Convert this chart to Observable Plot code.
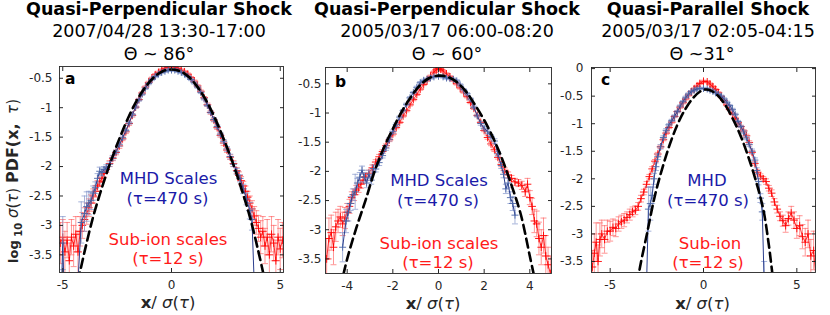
<!DOCTYPE html>
<html><head><meta charset="utf-8">
<script src="https://cdn.jsdelivr.net/npm/d3@7"></script>
<script src="https://cdn.jsdelivr.net/npm/@observablehq/plot@0.6"></script>
<style>
html,body{margin:0;padding:0;background:#fff;}
#chart{position:relative;width:830px;height:315px;overflow:hidden;font-family:"DejaVu Sans",sans-serif;}
#chart > svg{position:absolute;top:0;}
</style></head><body><div id="chart"></div>
<script>
// ---------- Panel a : 2007/04/28 ----------
const aRedX = [-5.1,-5.0,-4.9,-4.8,-4.7,-4.6,-4.5,-4.4,-4.3,-4.2,-4.1,-4.0,-3.9,-3.8,-3.7,-3.6,-3.5,-3.4,-3.3,-3.2,-3.1,-3.0,-2.85,-2.7,-2.55,-2.4,-2.25,-2.1,-1.95,-1.8,-1.65,-1.5,-1.35,-1.2,-1.05,-0.9,-0.75,-0.6,-0.45,-0.3,-0.15,0,0.15,0.3,0.45,0.6,0.75,0.9,1.05,1.2,1.35,1.5,1.65,1.8,1.95,2.1,2.25,2.4,2.55,2.7,2.85,3.0,3.1,3.2,3.3,3.4,3.5,3.6,3.7,3.8,3.9,4.0,4.1,4.2,4.3,4.4,4.5,4.6,4.7,4.8,4.9,5.0,5.1];
const aRedY = [-3.3,-3.2,-3.45,-3.25,-3.6,-3.2,-3.35,-3.15,-3.45,-3.1,-3.0,-2.9,-2.8,-2.7,-2.62,-2.5,-2.42,-2.33,-2.26,-2.2,-2.12,-2.05,-1.95,-1.86,-1.76,-1.65,-1.53,-1.41,-1.27,-1.13,-0.99,-0.86,-0.75,-0.65,-0.57,-0.5,-0.44,-0.4,-0.36,-0.33,-0.31,-0.3,-0.31,-0.33,-0.36,-0.39,-0.43,-0.49,-0.55,-0.63,-0.72,-0.83,-0.95,-1.08,-1.21,-1.34,-1.47,-1.6,-1.72,-1.84,-1.95,-2.07,-2.15,-2.24,-2.33,-2.42,-2.52,-2.62,-2.72,-2.84,-2.95,-3.05,-3.2,-3.1,-3.35,-3.2,-3.5,-3.15,-3.3,-3.6,-3.2,-3.4,-3.25];
const aRedE = [.35,.3,.35,.3,.3,.3,.35,.3,.35,.25,.22,.2,.18,.15,.14,.12,.1,.09,.08,.07,.06,.05,.05,.04,.04,.04,.03,.03,.03,.03,.02,.02,.02,.02,.02,.02,.02,.02,.02,.02,.02,.02,.02,.02,.02,.02,.02,.02,.02,.02,.02,.02,.03,.03,.03,.03,.03,.04,.04,.04,.05,.05,.06,.07,.08,.09,.1,.12,.14,.16,.2,.22,.28,.25,.3,.3,.35,.3,.3,.35,.3,.35,.3];
const aBlueX = [-5.05,-5.0,-4.95,-4.9,-4.3,-4.15,-4.0,-3.9,-3.8,-3.7,-3.6,-3.5,-3.4,-3.3,-3.2,-3.1,-3.0,-2.85,-2.7,-2.55,-2.4,-2.25,-2.1,-1.95,-1.8,-1.65,-1.5,-1.35,-1.2,-1.05,-0.9,-0.75,-0.6,-0.45,-0.3,-0.15,0,0.15,0.3,0.45,0.6,0.75,0.9,1.05,1.2,1.35,1.5,1.65,1.8,1.95,2.1,2.25,2.4,2.55,2.7,2.85,3.0,3.15,3.3,3.45,3.6,3.7,3.8];
const aBlueY = [-3.95,-3.3,-3.95,null,-3.95,-2.95,-2.8,-2.68,-2.62,-2.58,-2.45,-2.36,-2.2,-2.08,-2.1,-2.05,-2.02,-1.96,-1.85,-1.75,-1.63,-1.51,-1.39,-1.26,-1.12,-0.99,-0.87,-0.77,-0.67,-0.59,-0.52,-0.47,-0.43,-0.4,-0.38,-0.36,-0.36,-0.36,-0.38,-0.4,-0.43,-0.47,-0.52,-0.58,-0.65,-0.74,-0.85,-0.96,-1.08,-1.2,-1.32,-1.45,-1.57,-1.7,-1.83,-1.96,-2.08,-2.2,-2.38,-2.55,-2.75,-2.9,-3.95];
const aBlueE = [0,.45,0,0,0,.35,.3,.25,.2,.15,.12,.1,.08,.07,.06,.05,.05,.04,.04,.03,.03,.03,.02,.02,.02,.02,.02,.02,.02,.02,.02,.02,.02,.02,.02,.02,.02,.02,.02,.02,.02,.02,.02,.02,.02,.02,.02,.02,.02,.03,.03,.03,.03,.04,.04,.04,.05,.06,.08,.1,.14,.18,0];
const aFitX = [-4.3,-4.0,-3.6,-3.2,-2.8,-2.4,-2.0,-1.6,-1.2,-0.8,-0.4,0,0.4,0.8,1.2,1.6,2.0,2.4,2.8,3.2,3.6,4.0,4.3];
const aFitY = [-3.95,-3.45,-2.85,-2.36,-1.92,-1.53,-1.18,-0.88,-0.65,-0.48,-0.38,-0.35,-0.38,-0.48,-0.65,-0.88,-1.18,-1.53,-1.92,-2.36,-2.85,-3.45,-3.95];

// ---------- Panel b : 2005/03/17 06:00-08:20 ----------
const bRedX = [-4.9,-4.8,-4.7,-4.6,-4.5,-4.4,-4.3,-4.2,-4.1,-4.0,-3.9,-3.8,-3.7,-3.6,-3.5,-3.4,-3.3,-3.2,-3.05,-2.9,-2.75,-2.6,-2.45,-2.3,-2.15,-2.0,-1.85,-1.7,-1.55,-1.4,-1.25,-1.1,-0.95,-0.8,-0.65,-0.5,-0.35,-0.2,-0.1,0,0.1,0.2,0.35,0.5,0.65,0.8,0.95,1.1,1.25,1.4,1.55,1.7,1.85,2.0,2.15,2.3,2.45,2.6,2.75,2.9,3.05,3.2,3.35,3.5,3.65,3.8,3.9,4.0,4.1,4.2,4.3,4.4,4.5,4.6,4.7,4.8,4.9];
const bRedY = [-3.5,-3.15,-3.05,-3.3,-2.95,-2.85,-2.78,-2.9,-2.8,-2.7,-2.6,-2.45,-2.4,-2.32,-2.28,-2.22,-2.15,-2.1,-2.03,-1.94,-1.84,-1.75,-1.66,-1.56,-1.46,-1.36,-1.25,-1.16,-1.05,-0.96,-0.86,-0.77,-0.68,-0.59,-0.51,-0.44,-0.37,-0.3,-0.26,-0.24,-0.25,-0.28,-0.33,-0.38,-0.44,-0.5,-0.57,-0.64,-0.72,-0.82,-0.92,-1.04,-1.16,-1.3,-1.42,-1.53,-1.63,-1.76,-1.88,-1.98,-2.06,-2.12,-2.18,-2.2,-2.24,-2.35,-2.22,-2.45,-2.6,-2.85,-2.9,-3.15,-3.3,-3.1,-3.45,-3.6,-3.75];
const bRedE = [.35,.35,.3,.3,.25,.2,.18,.2,.18,.15,.12,.1,.1,.08,.08,.07,.06,.06,.05,.05,.04,.04,.03,.03,.03,.03,.02,.02,.02,.02,.02,.02,.02,.02,.02,.02,.02,.02,.02,.02,.02,.02,.02,.02,.02,.02,.02,.02,.02,.02,.02,.02,.02,.02,.03,.03,.03,.03,.04,.04,.05,.05,.06,.06,.07,.08,.1,.12,.14,.2,.22,.28,.3,.3,.35,.3,.3];
const bBlueX = [-4.2,-4.05,-3.95,-3.85,-3.75,-3.65,-3.55,-3.45,-3.35,-3.25,-3.15,-3.05,-2.95,-2.85,-2.75,-2.6,-2.45,-2.3,-2.15,-2.0,-1.85,-1.7,-1.55,-1.4,-1.25,-1.1,-0.95,-0.8,-0.65,-0.5,-0.35,-0.2,0,0.2,0.35,0.5,0.65,0.8,0.95,1.1,1.25,1.4,1.55,1.7,1.85,2.0,2.15,2.3,2.45,2.6,2.75,2.85,2.95,3.05,3.15,3.25,3.35];
const bBlueY = [-3.3,-2.85,-2.7,-2.55,-2.4,-2.35,-2.2,-2.1,-1.98,-2.1,-2.2,-2.05,-2.15,-1.95,-1.96,-1.85,-1.73,-1.6,-1.45,-1.32,-1.2,-1.07,-0.96,-0.85,-0.74,-0.65,-0.56,-0.48,-0.44,-0.42,-0.4,-0.38,-0.37,-0.38,-0.4,-0.41,-0.42,-0.45,-0.52,-0.6,-0.67,-0.76,-0.9,-1.05,-1.18,-1.26,-1.32,-1.4,-1.48,-1.7,-1.9,-2.05,-2.3,-2.2,-2.45,-2.55,-2.75];
const bBlueE = [.25,.2,.15,.12,.1,.3,.08,.08,.07,.08,.08,.07,.07,.06,.05,.05,.04,.04,.03,.03,.03,.02,.02,.02,.02,.02,.02,.02,.02,.02,.02,.02,.02,.02,.02,.02,.02,.02,.02,.02,.02,.02,.02,.02,.03,.03,.03,.03,.04,.04,.05,.06,.08,.08,.1,.12,.15];
const bFitX = [-4.3,-4.0,-3.6,-3.2,-2.8,-2.4,-2.0,-1.6,-1.2,-0.8,-0.4,0,0.4,0.8,1.2,1.6,2.0,2.4,2.8,3.2,3.6,4.0,4.3];
const bFitY = [-4.0,-3.5,-2.97,-2.5,-2.0,-1.6,-1.27,-0.97,-0.72,-0.52,-0.4,-0.36,-0.38,-0.47,-0.63,-0.86,-1.12,-1.43,-1.8,-2.24,-2.73,-3.45,-4.0];

// ---------- Panel c : 2005/03/17 02:05-04:15 ----------
const cRedX = [-5.95,-5.85,-5.75,-5.65,-5.55,-5.45,-5.3,-5.15,-5.0,-4.85,-4.7,-4.55,-4.4,-4.25,-4.1,-3.95,-3.8,-3.65,-3.5,-3.35,-3.2,-3.05,-2.9,-2.75,-2.6,-2.45,-2.3,-2.15,-2.0,-1.85,-1.7,-1.55,-1.4,-1.25,-1.1,-0.95,-0.8,-0.65,-0.5,-0.35,-0.2,0,0.2,0.35,0.5,0.65,0.8,0.95,1.1,1.25,1.4,1.55,1.7,1.85,2.0,2.15,2.3,2.45,2.6,2.75,2.9,3.05,3.2,3.35,3.5,3.65,3.8,3.95,4.1,4.25,4.4,4.55,4.7,4.85,5.0,5.15,5.3,5.45,5.6,5.75,5.9,6.0];
const cRedY = [-3.6,-3.35,-3.15,-3.5,-3.1,-3.0,-3.1,-2.95,-2.95,-2.88,-2.9,-2.82,-2.78,-2.75,-2.7,-2.65,-2.6,-2.57,-2.5,-2.36,-2.24,-2.1,-1.96,-1.82,-1.68,-1.55,-1.42,-1.29,-1.17,-1.07,-0.97,-0.87,-0.78,-0.7,-0.62,-0.55,-0.48,-0.42,-0.37,-0.32,-0.27,-0.23,-0.24,-0.28,-0.33,-0.38,-0.44,-0.51,-0.58,-0.66,-0.74,-0.82,-0.9,-0.98,-1.05,-1.13,-1.22,-1.34,-1.52,-1.72,-1.88,-1.95,-2.0,-2.05,-2.17,-2.26,-2.42,-2.55,-2.68,-2.76,-2.85,-2.72,-2.62,-2.75,-2.9,-2.85,-3.05,-3.15,-3.0,-3.4,-3.3,-3.7];
const cRedE = [.3,.35,.35,.3,.3,.25,.25,.2,.18,.15,.15,.13,.12,.12,.1,.1,.09,.08,.07,.06,.05,.05,.04,.04,.03,.03,.03,.02,.02,.02,.02,.02,.02,.02,.02,.02,.02,.02,.02,.02,.02,.02,.02,.02,.02,.02,.02,.02,.02,.02,.02,.02,.02,.02,.02,.02,.03,.03,.03,.03,.04,.04,.04,.05,.05,.06,.06,.07,.08,.1,.12,.12,.12,.15,.18,.18,.22,.25,.25,.3,.35,.3];
const cBlueX = [-3.05,-2.95,-2.85,-2.75,-2.65,-2.55,-2.45,-2.3,-2.15,-2.0,-1.85,-1.7,-1.55,-1.4,-1.25,-1.1,-0.95,-0.8,-0.65,-0.5,-0.35,-0.2,0,0.2,0.35,0.5,0.65,0.8,0.95,1.1,1.25,1.4,1.55,1.7,1.85,2.0,2.15,2.3,2.45,2.6,2.75,2.85,2.95,3.05,3.15,3.25];
const cBlueY = [-3.9,-2.55,-2.45,-2.3,-2.0,-1.78,-1.6,-1.42,-1.25,-1.12,-1.02,-0.94,-0.86,-0.78,-0.68,-0.6,-0.52,-0.46,-0.42,-0.39,-0.37,-0.36,-0.36,-0.37,-0.39,-0.41,-0.44,-0.47,-0.5,-0.55,-0.61,-0.67,-0.74,-0.83,-0.96,-1.05,-1.15,-1.26,-1.38,-1.5,-1.66,-1.85,-2.05,-2.35,-2.6,-3.9];
const cBlueE = [0,.4,.3,.15,.1,.07,.05,.04,.03,.03,.02,.02,.02,.02,.02,.02,.02,.02,.02,.02,.02,.02,.02,.02,.02,.02,.02,.02,.02,.02,.02,.02,.02,.02,.02,.02,.03,.03,.03,.04,.04,.05,.06,.08,.15,.4,0];
const cFitX = [-3.55,-3.4,-3.0,-2.6,-2.2,-1.8,-1.4,-1.0,-0.6,-0.2,0.1,0.4,0.8,1.2,1.6,2.0,2.4,2.8,3.2,3.5,3.7,3.8];
const cFitY = [-3.9,-3.6,-2.95,-2.3,-1.8,-1.37,-1.02,-0.75,-0.55,-0.42,-0.38,-0.4,-0.5,-0.68,-0.93,-1.23,-1.6,-2.03,-2.55,-3.2,-3.75,-4.0];

// tick values
const aXTicks = [-5,0,5], bXTicks = [-4,-2,0,2,4], cXTicks = [-5,0,5];
const abYTicks = [-3.5,-3,-2.5,-2,-1.5,-1,-0.5];
const cYTicks = [-3.5,-3,-2.5,-2,-1.5,-1,-0.5,0];

// ---------- styles ----------
const C = {red:"#ff0000", redBar:"#ff5a5a", blueLine:"#2c3f8e", blueMark:"#4a64a6", blueBar:"#8497cb", axis:"#262626"};
const capSymbol = {draw(ctx){ ctx.moveTo(-3,0); ctx.lineTo(3,0); }};

function rows(xs, ys, es){ return xs.map((x,i)=>({x, y: ys[i], e: es ? (es[i] ?? 0) : 0})); }

const panels = [
  {left:0, width:290, ml:59, mr:7, mt:66, mb:43, xd:[-5.15,5.15], yd:[-3.8,-0.3], xt:aXTicks, yt:abYTicks, pad:7,
   red:rows(aRedX,aRedY,aRedE), blue:rows(aBlueX,aBlueY,aBlueE), fit:rows(aFitX,aFitY)},
  {left:290, width:270, ml:35, mr:9, mt:67, mb:42, xd:[-4.95,4.95], yd:[-3.75,-0.22], xt:bXTicks, yt:abYTicks, pad:4,
   red:rows(bRedX,bRedY,bRedE), blue:rows(bBlueX,bBlueY,bBlueE), fit:rows(bFitX,bFitY)},
  {left:560, width:270, ml:31, mr:15, mt:67, mb:43, xd:[-6,6], yd:[-3.7,0.02], xt:cXTicks, yt:cYTicks, pad:8,
   red:rows(cRedX,cRedY,cRedE), blue:rows(cBlueX,cBlueY,cBlueE), fit:rows(cFitX,cFitY)}
];

function errMarks(data, color, w){
  const d = data.filter(r => r.y != null && r.e > 0);
  return [
    Plot.ruleX(d, {x:"x", y1:r=>r.y-r.e, y2:r=>r.y+r.e, stroke:color, strokeWidth:w, strokeOpacity:0.8, clip:true}),
    Plot.dot(d, {x:"x", y:r=>r.y+r.e, symbol:capSymbol, fill:"none", stroke:color, strokeWidth:w, strokeOpacity:0.8, clip:true}),
    Plot.dot(d, {x:"x", y:r=>r.y-r.e, symbol:capSymbol, fill:"none", stroke:color, strokeWidth:w, strokeOpacity:0.8, clip:true})
  ];
}

const chart = document.getElementById("chart");
panels.forEach(p => {
  const svg = Plot.plot({
    width:p.width, height:315,
    marginLeft:p.ml, marginRight:p.mr, marginTop:p.mt, marginBottom:p.mb,
    x:{domain:p.xd}, y:{domain:p.yd},
    style:{fontFamily:"DejaVu Sans", fontSize:"12px", color:C.axis, background:"transparent", overflow:"visible"},
    marks:[
      ...errMarks(p.red, C.redBar, 0.8),
      Plot.line(p.red, {x:"x", y:"y", stroke:C.red, strokeWidth:0.8, clip:true}),
      Plot.dot(p.red, {x:"x", y:"y", symbol:"plus", r:2.6, stroke:C.red, strokeWidth:0.9, clip:true}),
      ...errMarks(p.blue, C.blueBar, 0.9),
      Plot.line(p.blue, {x:"x", y:"y", stroke:C.blueLine, strokeWidth:1, clip:true}),
      Plot.dot(p.blue, {x:"x", y:"y", symbol:"plus", r:2.4, stroke:C.blueMark, strokeWidth:0.9, clip:true}),
      Plot.line(p.fit, {x:"x", y:"y", stroke:"#000", strokeWidth:2.6, strokeDasharray:"9,5", curve:"catmull-rom", clip:true}),
      Plot.axisY({ticks:p.yt, tickSize:0, tickPadding:p.pad, tickFormat:d=>String(d), label:null}),
      Plot.axisY({ticks:p.yt, anchor:"left", tickSize:4, dx:4, tickFormat:()=>"", label:null}),
      Plot.axisY({ticks:p.yt, anchor:"right", tickSize:4, dx:-4, tickFormat:()=>"", label:null}),
      Plot.axisX({ticks:p.xt, tickSize:0, tickPadding:8, tickFormat:d=>String(d), label:null}),
      Plot.axisX({ticks:p.xt, anchor:"bottom", tickSize:4, dy:-4, tickFormat:()=>"", label:null}),
      Plot.axisX({ticks:p.xt, anchor:"top", tickSize:4, dy:4, tickFormat:()=>"", label:null}),
      Plot.frame({stroke:C.axis, strokeWidth:0.9})
    ]
  });
  svg.style.left = p.left + "px";
  chart.appendChild(svg);
});

// ---------- text overlay ----------
const ov = d3.select(chart).append("svg").attr("width",830).attr("height",315)
  .style("left","0px").style("font-family","DejaVu Sans").style("pointer-events","none");

const titles = [
  {x:159, t:"Quasi-Perpendicular Shock", s:"2007/04/28 13:30-17:00", th:"Θ ~ 86°", thx:159},
  {x:447, t:"Quasi-Perpendicular Shock", s:"2005/03/17 06:00-08:20", th:"Θ ~ 60°", thx:447},
  {x:708, t:"Quasi-Parallel Shock", s:"2005/03/17 02:05-04:15", th:"Θ ~31°", thx:702}
];
titles.forEach(d => {
  ov.append("text").attr("x",d.x).attr("y",14.5).attr("text-anchor","middle").attr("font-size",17.5).attr("font-weight","bold").text(d.t);
  ov.append("text").attr("x",d.x).attr("y",36.5).attr("text-anchor","middle").attr("font-size",17.5).text(d.s);
  ov.append("text").attr("x",d.thx).attr("y",59.5).attr("text-anchor","middle").attr("font-size",17.5).text(d.th);
});

[["a",65,84],["b",335,87],["c",601,85]].forEach(([t,x,y]) =>
  ov.append("text").attr("x",x).attr("y",y).attr("font-size",15.5).attr("font-weight","bold").text(t));

const notes = [
  ["MHD Scales",168.5,184,"#1a1aa8"],["(τ=470 s)",167.5,204,"#1a1aa8"],["Sub-ion scales",168,244.5,"#ff1a1a"],["(τ=12 s)",168,264,"#ff1a1a"],
  ["MHD Scales",439,186,"#1a1aa8"],["(τ=470 s)",438,206,"#1a1aa8"],["Sub-ion scales",439,248.5,"#ff1a1a"],["(τ=12 s)",438,268,"#ff1a1a"],
  ["MHD",707,186,"#1a1aa8"],["(τ=470 s)",708,206,"#1a1aa8"],["Sub-ion",710,248.5,"#ff1a1a"],["(τ=12 s)",708,268,"#ff1a1a"]
];
notes.forEach(([t,x,y,c]) => ov.append("text").attr("x",x).attr("y",y).attr("text-anchor","middle").attr("font-size",16.5).attr("fill",c).text(t));

[[168,308],[433,309],[702.5,308.5]].forEach(([x,y]) => {
  const t = ov.append("text").attr("x",x).attr("y",y).attr("text-anchor","middle").attr("font-size",16.5).attr("fill","#262626");
  t.append("tspan").attr("font-weight","bold").text("x");
  t.append("tspan").text("/ ");
  t.append("tspan").attr("font-style","italic").text("σ");
  t.append("tspan").text("(");
  t.append("tspan").attr("font-style","italic").text("τ");
  t.append("tspan").text(")");
});

const yl = ov.append("text").attr("transform","translate(18,263) rotate(-90)").attr("fill","#262626").style("white-space","pre");
yl.append("tspan").attr("font-weight","bold").attr("font-size",13).text("log");
yl.append("tspan").attr("font-weight","bold").attr("font-size",10).attr("dy",4).text(" 10");
yl.append("tspan").attr("font-size",15).attr("dy",-4).text(" ");
yl.append("tspan").attr("font-size",15).attr("font-style","italic").text("σ");
yl.append("tspan").attr("font-size",15).text("(");
yl.append("tspan").attr("font-size",15).attr("font-style","italic").text("τ");
yl.append("tspan").attr("font-size",15).text(") ");
yl.append("tspan").attr("font-weight","bold").attr("font-size",16).text("PDF(x,");
yl.append("tspan").attr("font-size",15).text("  ");
yl.append("tspan").attr("font-size",15).attr("font-style","italic").text("τ");
yl.append("tspan").attr("font-size",15).text(")");
</script></body></html>
